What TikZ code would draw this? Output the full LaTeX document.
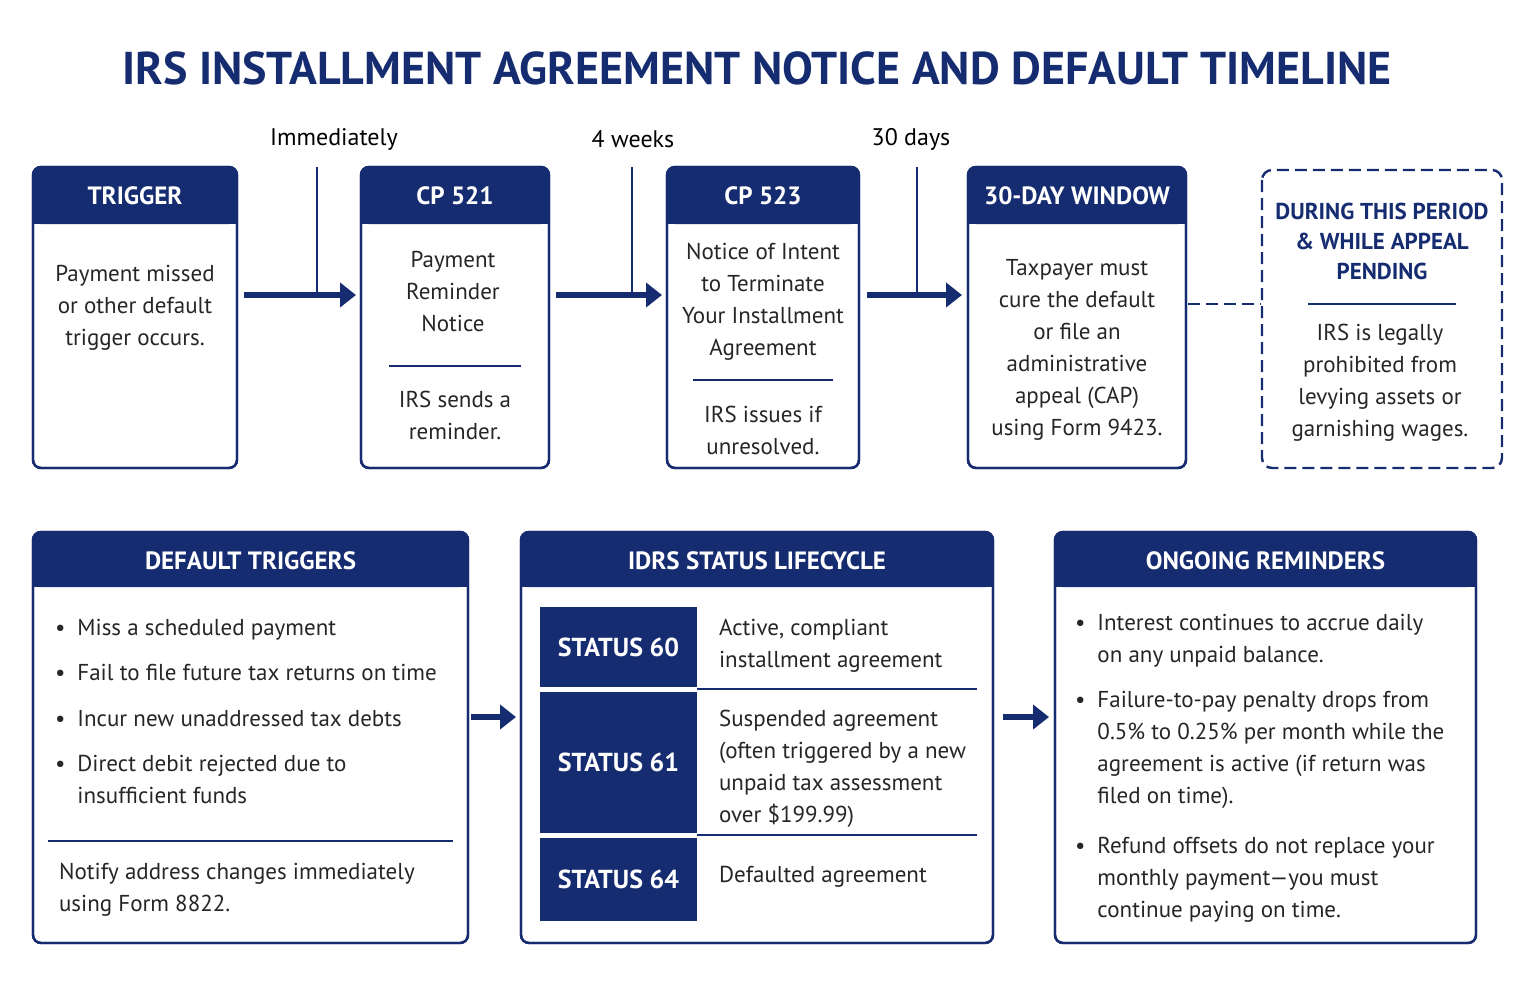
\documentclass[tikz,border=0pt]{standalone}
\usepackage{fontspec}
\setmainfont{PT Sans}
\usetikzlibrary{arrows.meta}
\definecolor{navy}{RGB}{22,44,112}
\tikzset{
  box/.style={draw=navy, line width=1.2pt, rounded corners=4pt, fill=white},
  head/.style={fill=navy, rounded corners=4pt},
  htext/.style={text=white, font=\bfseries\fontsize{12.5}{14}\selectfont},
  body/.style={text=black!85, font=\fontsize{11.5}{16}\selectfont, align=center},
  item/.style={text=black!85, font=\fontsize{11.5}{16}\selectfont, align=left, anchor=north west},
  flow/.style={navy, line width=3pt, -{Triangle[length=8pt,width=12pt]}},
  tick/.style={navy, line width=0.6pt},
  rule/.style={navy, line width=0.8pt}
}
\newcommand{\topbox}[6]{% name, x1, x2, title, text, (unused)
  \draw[box] (#2,167) rectangle (#3,468);
  \fill[head] (#2,167) rectangle (#3,224);
  \fill[navy] (#2,200) rectangle (#3,224);
  \draw[box, fill=none] (#2,167) rectangle (#3,468);
  \node[htext] (#1) at ({(#2+#3)/2},196) {#4};
}
\newcommand{\botbox}[4]{% name, x1, x2, title
  \draw[box] (#2,532) rectangle (#3,943);
  \fill[head] (#2,532) rectangle (#3,587);
  \fill[navy] (#2,565) rectangle (#3,587);
  \draw[box, fill=none] (#2,532) rectangle (#3,943);
  \node[htext] (#1) at ({(#2+#3)/2},561) {#4};
}
\begin{document}
\begin{tikzpicture}[x=0.5pt, y=-0.5pt]
  \useasboundingbox (0,0) rectangle (1536,993);

  % title
  \node[text=navy, font=\bfseries\fontsize{23}{26}\selectfont] (title) at (757,68)
    {IRS INSTALLMENT AGREEMENT NOTICE AND DEFAULT TIMELINE};

  % top row
  \topbox{trig}{33}{237}{TRIGGER}{}{}
  \topbox{cpa}{361}{549}{CP 521}{}{}
  \topbox{cpb}{667}{859}{CP 523}{}{}
  \topbox{win}{968}{1186}{30-DAY WINDOW}{}{}

  \node[body] (trigtxt) at (135,308) {Payment missed\\or other default\\trigger occurs.};
  \node[body] (cpatxt) at (453,291) {Payment\\Reminder\\Notice};
  \draw[rule] (389,366) -- (521,366);
  \node[body] (cpasub) at (455,415) {IRS sends a\\reminder.};
  \node[body] (cpbtxt) at (763,302) {Notice of Intent\\to Terminate\\Your Installment\\Agreement};
  \draw[rule] (693,380) -- (833,380);
  \node[body] (cpbsub) at (763,430) {IRS issues if\\unresolved.};
  \node[body] (wintxt) at (1077,350) {Taxpayer must\\cure the default\\or file an\\administrative\\appeal (CAP)\\using Form 9423.};

  % dashed side box
  \draw[navy, line width=1.2pt, dash pattern=on 6pt off 3pt, rounded corners=5pt]
    (1262,170) rectangle (1502,468);
  \node[text=navy, font=\bfseries\fontsize{11.5}{15}\selectfont, align=center] (period) at (1382,241)
    {DURING THIS PERIOD\\\& WHILE APPEAL\\PENDING};
  \draw[rule] (1308,304) -- (1456,304);
  \node[body] (periodtxt) at (1380,383) {IRS is legally\\prohibited from\\levying assets or\\garnishing wages.};
  \draw[navy, line width=1.2pt, dash pattern=on 6pt off 3pt] (1188,304) -- (1261,304);

  % time steps
  \draw[flow] (244,295) -- (356,295);
  \draw[flow] (556,295) -- (662,295);
  \draw[flow] (867,295) -- (962,295);
  \draw[tick] (317,167) -- (317,295);
  \draw[tick] (632,167) -- (632,295);
  \draw[tick] (917,167) -- (917,295);
  \node[font=\fontsize{12}{14}\selectfont] (immed) at (334,139) {Immediately};
  \node[font=\fontsize{12}{14}\selectfont] (weeks) at (633,139) {4 weeks};
  \node[font=\fontsize{12}{14}\selectfont] (days) at (911,139) {30 days};

  % bottom row
  \botbox{deft}{33}{468}{DEFAULT TRIGGERS}
  \botbox{idrs}{521}{993}{IDRS STATUS LIFECYCLE}
  \botbox{ongo}{1055}{1476}{ONGOING REMINDERS}

  \foreach \y/\t [count=\k] in {612/Miss a scheduled payment,
      657/Fail to file future tax returns on time,
      703/Incur new unaddressed tax debts,
      748/{Direct debit rejected due to\\insufficient funds}}
    \node[item] (dt\k) at (48,\y) {\textbullet\hspace{6pt}\parbox[t]{195pt}{\raggedright\t}};
  \draw[rule] (48,841) -- (453,841);
  \node[item] (notify) at (52,856) {Notify address changes immediately\\using Form 8822.};

  % status rows
  \foreach \ya/\yb/\s [count=\k] in {607/687/60, 692/833/61, 838/921/64}
    \fill[navy] (540,\ya) rectangle (697,\yb) node[midway, htext, font=\bfseries\fontsize{13}{15}\selectfont] (st\k) {STATUS \s};
  \draw[rule] (697,689) -- (977,689);
  \draw[rule] (697,835) -- (977,835);
  \node[item] (sta) at (712,612) {Active, compliant\\installment agreement};
  \node[item] (stb) at (712,703) {Suspended agreement\\(often triggered by a new\\unpaid tax assessment\\over \$199.99)};
  \node[item] (stc) at (712,859) {Defaulted agreement};

  \foreach \y/\t [count=\k] in {607/{Interest continues to accrue daily\\on any unpaid balance.},
      684/{Failure-to-pay penalty drops from\\0.5\% to 0.25\% per month while the\\agreement is active (if return was\\filed on time).},
      830/{Refund offsets do not replace your\\monthly payment---you must\\continue paying on time.}}
    \node[item] (or\k) at (1068,\y) {\textbullet\hspace{6pt}\parbox[t]{190pt}{\raggedright\t}};

  \draw[flow] (471,717) -- (516,717);
  \draw[flow] (1003,717) -- (1049,717);
\end{tikzpicture}
\end{document}
